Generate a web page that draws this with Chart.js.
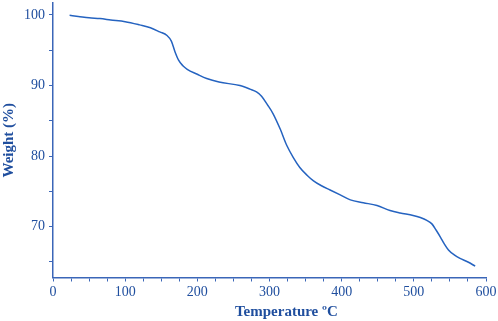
<!DOCTYPE html>
<html>
<head>
<meta charset="utf-8">
<script src="https://cdn.jsdelivr.net/npm/chart.js@4/dist/chart.umd.min.js"></script>
<style>
  html, body { margin: 0; padding: 0; background: #fff; }
  #wrap { width: 498px; height: 321px; position: relative; }
</style>
</head>
<body>
<div id="wrap"><canvas id="c"></canvas></div>
<script>
// TGA curve: weight (%) vs temperature (°C)
const TEMPS = [23, 35, 50, 65, 80, 100, 120, 135, 148, 158, 164, 169, 174, 180, 186,
  200, 213, 230, 259, 273, 282, 289, 297, 305, 315, 324, 333, 342, 352, 361, 372,
  384, 398, 412, 430, 449, 467, 481, 499, 509, 518, 525, 531, 537, 542, 548, 556,
  564, 575, 585];
const WEIGHTS = [99.95, 99.8, 99.6, 99.5, 99.3, 99.05, 98.6, 98.2, 97.6, 97.1, 96.3,
  94.8, 93.6, 92.8, 92.3, 91.6, 91.0, 90.5, 90.0, 89.5, 89.1, 88.5, 87.3, 86.0, 83.8,
  81.5, 79.8, 78.4, 77.3, 76.5, 75.8, 75.2, 74.5, 73.8, 73.4, 73.0, 72.3, 71.95, 71.6,
  71.3, 70.9, 70.4, 69.5, 68.5, 67.6, 66.7, 66.0, 65.5, 65.0, 64.4];

const X_TICKS = [0, 25, 50, 75, 100, 125, 150, 175, 200, 225, 250, 275, 300, 325, 350,
  375, 400, 425, 450, 475, 500, 525, 550, 575, 600];
const Y_TICKS = [65, 70, 75, 80, 85, 90, 95, 100];

const TXT  = '#1f4e9e';
const AXIS = '#3b66b8';
const LINE = '#2563c0';
const SERIF = '"Liberation Serif", "Times New Roman", serif';

const points = TEMPS.map((t, i) => ({ x: t, y: WEIGHTS[i] }));

new Chart(document.getElementById('c'), {
  type: 'line',
  data: {
    datasets: [{
      data: points,
      borderColor: LINE,
      borderWidth: 1.5,
      pointRadius: 0,
      cubicInterpolationMode: 'monotone',
      fill: false,
    }],
  },
  options: {
    parsing: false,
    animation: false,
    responsive: true,
    maintainAspectRatio: false,
    layout: { padding: { top: 3, right: 12, left: 0, bottom: 0 } },
    plugins: { legend: { display: false }, tooltip: { enabled: false } },
    scales: {
      x: {
        type: 'linear',
        min: 0,
        max: 600,
        afterBuildTicks: (s) => { s.ticks = X_TICKS.map((v) => ({ value: v })); },
        afterFit: (s) => { s.height = 43.5; s.paddingLeft = 0; s.paddingRight = 0; },
        ticks: {
          color: TXT,
          padding: 2,
          autoSkip: false,
          maxRotation: 0,
          font: { family: SERIF, size: 14 },
          callback: (v) => (v % 100 === 0 ? v : ''),
        },
        grid: { drawOnChartArea: false, drawTicks: true, tickLength: 4, color: AXIS, lineWidth: 1 },
        border: { display: true, color: AXIS, width: 1.5 },
        title: {
          display: true,
          text: '\u00a0\u00a0\u00a0\u00a0\u00a0\u00a0\u00a0\u00a0\u00a0Temperature ºC',
          color: TXT,
          font: { family: SERIF, size: 15, weight: 'bold' },
          padding: { top: 4, bottom: 0 },
        },
      },
      y: {
        min: 62.8,
        max: 101.7,
        afterBuildTicks: (s) => { s.ticks = Y_TICKS.map((v) => ({ value: v })); },
        afterFit: (s) => { s.width = 53; s.paddingTop = 0; s.paddingBottom = 0; },
        ticks: {
          color: TXT,
          padding: 4,
          autoSkip: false,
          font: { family: SERIF, size: 14 },
          callback: (v) => (v % 10 === 0 ? v : ''),
        },
        grid: { drawOnChartArea: false, drawTicks: true, tickLength: 4, color: AXIS, lineWidth: 1 },
        border: { display: true, color: AXIS, width: 1.5 },
        title: {
          display: true,
          text: 'Weight (%)',
          color: TXT,
          font: { family: SERIF, size: 15, weight: 'bold' },
          padding: { top: 0, bottom: 0 },
        },
      },
    },
  },
});
</script>
</body>
</html>
